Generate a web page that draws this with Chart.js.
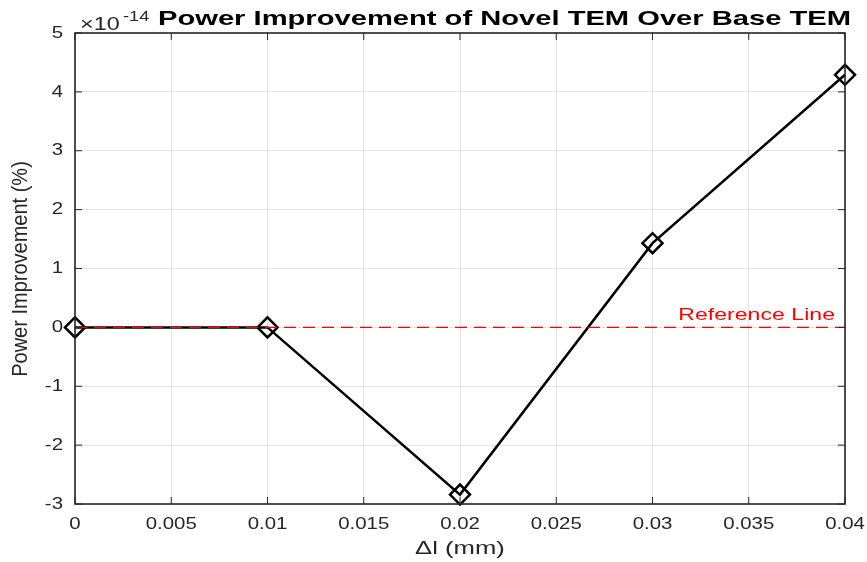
<!DOCTYPE html>
<html><head><meta charset="utf-8">
<script src="https://cdn.jsdelivr.net/npm/chart.js@4/dist/chart.umd.min.js"></script>
<style>html,body{margin:0;padding:0;background:#fff}#wrap{width:867px;height:562px}</style>
</head><body><div id="wrap"><canvas id="c" width="867" height="562"></canvas></div>
<script>
const deltaL = [0, 0.01, 0.02, 0.03, 0.04];
const improvement = [0, 0, -2.84, 1.43, 4.29]; // in units of 1e-14 %
const exponent = -14;
const refX = [0, 0.04];
const refY = [0, 0];
const xTicks = [0, 0.005, 0.01, 0.015, 0.02, 0.025, 0.03, 0.035, 0.04];
const yTicks = [-3, -2, -1, 0, 1, 2, 3, 4, 5];
const titleText = 'Power Improvement of Novel TEM Over Base TEM';
const xTitle = 'Δl (mm)';
const yTitle = 'Power Improvement (%)';
const refLabel = 'Reference Line';

const AX = '#262626';
const FONT = '"Liberation Sans", Arial, Helvetica, sans-serif';

function txt(ctx, s, x, y, font, align, sx, color, base) {
  ctx.save();
  ctx.font = font; ctx.fillStyle = color; ctx.textAlign = align;
  ctx.textBaseline = base || 'alphabetic';
  ctx.translate(x, y); ctx.scale(sx, 1);
  ctx.fillText(s, 0, 0);
  ctx.restore();
}

const deco = {
  id: 'deco',
  afterDraw(chart) {
    const {ctx, chartArea: a, scales: {x, y}} = chart;
    ctx.save();
    // frame
    ctx.strokeStyle = AX; ctx.lineWidth = 1.6;
    ctx.strokeRect(a.left, a.top, a.right - a.left, a.bottom - a.top);
    // inward ticks
    ctx.lineWidth = 1;
    xTicks.forEach(v => {
      const px = x.getPixelForValue(v);
      ctx.beginPath(); ctx.moveTo(px, a.bottom); ctx.lineTo(px, a.bottom - 7);
      ctx.moveTo(px, a.top); ctx.lineTo(px, a.top + 7); ctx.stroke();
      txt(ctx, String(+v.toFixed(3)), px, a.bottom + 20, '17px ' + FONT, 'center', 1.2, AX, 'middle');
    });
    yTicks.forEach(v => {
      const py = y.getPixelForValue(v);
      ctx.beginPath(); ctx.moveTo(a.left, py); ctx.lineTo(a.left + 7, py);
      ctx.moveTo(a.right, py); ctx.lineTo(a.right - 7, py); ctx.stroke();
      txt(ctx, String(v), a.left - 12, py, '17px ' + FONT, 'right', 1.2, AX, 'middle');
    });
    // reference label
    txt(ctx, refLabel, x.getPixelForValue(0.04) - 10, y.getPixelForValue(0) - 7, '17px ' + FONT, 'right', 1.36, '#ff0000');
    // title
    ctx.font = 'bold 21px ' + FONT;
    const tw = ctx.measureText(titleText).width;
    const tx0 = 158, tx1 = 851;
    txt(ctx, titleText, tx0, 25, 'bold 21px ' + FONT, 'left', (tx1 - tx0) / tw, '#000');
    // exponent
    txt(ctx, '×10', 80, 30, '18px ' + FONT, 'left', 1.3, AX);
    txt(ctx, String(exponent), 123, 21, '14px ' + FONT, 'left', 1.3, AX);
    // axis titles
    txt(ctx, xTitle, (a.left + a.right) / 2, 549, '19px ' + FONT, 'center', 1.35, AX, 'middle');
    ctx.translate(21, 269);
    ctx.rotate(-Math.PI / 2);
    ctx.scale(1, 1.1);
    ctx.font = '20px ' + FONT; ctx.fillStyle = AX;
    ctx.textAlign = 'center'; ctx.textBaseline = 'middle';
    ctx.fillText(yTitle, 0, 0);
    ctx.restore();
  }
};

new Chart(document.getElementById('c'), {
  type: 'line',
  data: {
    datasets: [
      {
        data: refX.map((v, i) => ({x: v, y: refY[i]})),
        borderColor: '#ff0000', borderWidth: 1.4, borderDash: [12, 7],
        pointRadius: 0, fill: false, order: 0
      },
      {
        data: deltaL.map((v, i) => ({x: v, y: improvement[i]})),
        borderColor: '#000', borderWidth: 2.5, fill: false, tension: 0, clip: false,
        pointStyle: 'rectRot', pointRadius: 10, pointBorderWidth: 2.5,
        pointBackgroundColor: 'rgba(0,0,0,0)', pointBorderColor: '#000', order: 1
      }
    ]
  },
  options: {
    responsive: false, animation: false,
    layout: {padding: {left: 0, right: 22, top: 33, bottom: 0}},
    plugins: {legend: {display: false}, tooltip: {enabled: false}},
    scales: {
      x: {
        type: 'linear', min: 0, max: 0.04,
        afterBuildTicks: s => { s.ticks = xTicks.map(v => ({value: v})); },
        afterFit: s => { s.height = 58; },
        grid: {color: '#e3e3e3', lineWidth: 1, drawTicks: false},
        border: {display: false},
        ticks: {display: false}
      },
      y: {
        type: 'linear', min: -3, max: 5,
        afterBuildTicks: s => { s.ticks = yTicks.map(v => ({value: v})); },
        afterFit: s => { s.width = 75; },
        grid: {color: '#e3e3e3', lineWidth: 1, drawTicks: false},
        border: {display: false},
        ticks: {display: false}
      }
    }
  },
  plugins: [deco]
});
</script></body></html>
